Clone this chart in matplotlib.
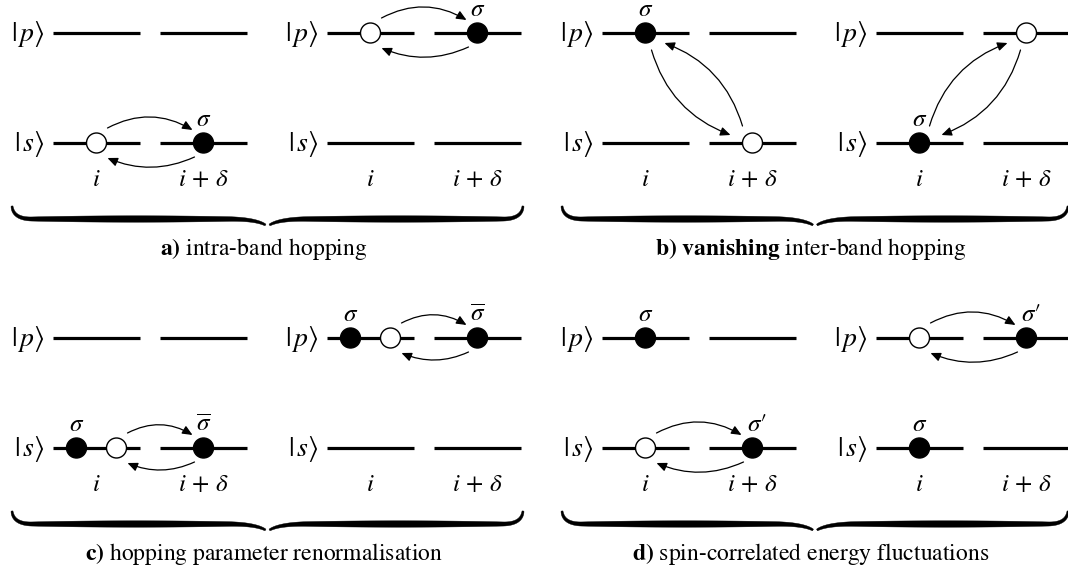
import numpy as np
import matplotlib
matplotlib.use("Agg")
import matplotlib.pyplot as plt
from matplotlib.patches import Circle, FancyArrowPatch, Polygon

plt.rcParams['font.family'] = ['STIXGeneral', 'DejaVu Serif']
plt.rcParams['mathtext.fontset'] = 'stix'

# --- diagram content -------------------------------------------------------
LEVELS = ["p", "s"]
LEVEL_LABELS = {"p": r"$|\,p\rangle$", "s": r"$|\,s\rangle$"}
SITE_LABELS = [r"$i$", r"$i\,+\,\delta$"]
SIG = r"$\sigma$"
SIGBAR = r"$\overline{\sigma}$"
SIGP = r"$\sigma\prime$"

CAPTIONS = [
    r"$\mathbf{a)}$ intra-band hopping",
    r"$\mathbf{b)}$ $\mathbf{vanishing}$ inter-band hopping",
    r"$\mathbf{c)}$ hopping parameter renormalisation",
    r"$\mathbf{d)}$ spin-correlated energy fluctuations",
]

# particles: (level, site, shift inside the site, kind, spin label)
# hops: (hole index, electron index)
SUBPANELS = [
    # a) left
    dict(particles=[("s", 0, 0, "hole", ""), ("s", 1, 0, "e", SIG)], hops=[(0, 1)]),
    # a) right
    dict(particles=[("p", 0, 0, "hole", ""), ("p", 1, 0, "e", SIG)], hops=[(0, 1)]),
    # b) left
    dict(particles=[("p", 0, 0, "e", SIG), ("s", 1, 0, "hole", "")], hops=[(1, 0)]),
    # b) right
    dict(particles=[("p", 1, 0, "hole", ""), ("s", 0, 0, "e", SIG)], hops=[(0, 1)]),
    # c) left
    dict(particles=[("s", 0, -1, "e", SIG), ("s", 0, 1, "hole", ""), ("s", 1, 0, "e", SIGBAR)],
         hops=[(1, 2)]),
    # c) right
    dict(particles=[("p", 0, -1, "e", SIG), ("p", 0, 1, "hole", ""), ("p", 1, 0, "e", SIGBAR)],
         hops=[(1, 2)]),
    # d) left
    dict(particles=[("p", 0, 0, "e", SIG), ("s", 0, 0, "hole", ""), ("s", 1, 0, "e", SIGP)],
         hops=[(1, 2)]),
    # d) right
    dict(particles=[("p", 0, 0, "hole", ""), ("p", 1, 0, "e", SIGP), ("s", 0, 0, "e", SIG)],
         hops=[(0, 1)]),
]

# --- layout (pixel units) --------------------------------------------------
W, H = 1068, 575
COL_X0 = [53, 327, 602, 876]        # start of first segment in each column
SEG_LEN = 87
SITE_STEP = 107
ROW_DY = 305
LEVEL_Y = {"p": 33, "s": 143}
SHIFT = 20
R = 10
FS = 17

fig = plt.figure(figsize=(W / 100, H / 100), dpi=100)
ax = fig.add_axes([0, 0, 1, 1])
ax.set_xlim(0, W)
ax.set_ylim(H, 0)
ax.axis("off")


def site_x(x0, site):
    return x0 + site * SITE_STEP + SEG_LEN / 2


def arrow(p0, p1, rad):
    a = FancyArrowPatch(p0, p1, connectionstyle=f"arc3,rad={rad}",
                        arrowstyle="-|>,head_length=0.5,head_width=0.22",
                        mutation_scale=12, lw=0.9, color="black",
                        shrinkA=0, shrinkB=0, zorder=4)
    ax.add_patch(a)


def brace(x1, x2, ytop):
    xm = (x1 + x2) / 2
    ybody = ytop + 12
    ycusp = ytop + 18
    for xa, d in ((x1, 1), (x2, -1)):
        t = np.linspace(0, 1, 30)
        # curl at the end
        c0 = np.array([xa, ytop - 1]); c1 = np.array([xa + d * 1, ybody]); c2 = np.array([xa + d * 20, ybody])
        seg1 = ((1 - t) ** 2)[:, None] * c0 + (2 * t * (1 - t))[:, None] * c1 + (t ** 2)[:, None] * c2
        e0 = np.array([xm - d * 40, ybody])
        seg2 = c2 + t[:, None] * (e0 - c2)
        f1 = np.array([xm - d * 12, ybody]); f2 = np.array([xm - d * 2, ycusp])
        seg3 = ((1 - t) ** 2)[:, None] * e0 + (2 * t * (1 - t))[:, None] * f1 + (t ** 2)[:, None] * f2
        pts = np.vstack([seg1, seg2[1:], seg3[1:]])
        seg = np.diff(pts, axis=0)
        s = np.concatenate([[0], np.cumsum(np.hypot(seg[:, 0], seg[:, 1]))])
        s /= s[-1]
        w = 1.8 + 4.6 * np.sin(np.pi * s) ** 0.6
        tang = np.gradient(pts, axis=0)
        tang /= np.hypot(tang[:, 0], tang[:, 1])[:, None]
        nrm = np.column_stack([-tang[:, 1], tang[:, 0]])
        upper = pts + nrm * (w / 2)[:, None]
        lower = pts - nrm * (w / 2)[:, None]
        poly = np.vstack([upper, lower[::-1]])
        ax.add_patch(Polygon(poly, closed=True, fc="black", ec="black", lw=0.3, zorder=2))


for k, sp in enumerate(SUBPANELS):
    row, col = divmod(k, 4)
    x0 = COL_X0[col]
    dy = row * ROW_DY
    ys = {lv: LEVEL_Y[lv] + dy for lv in LEVELS}

    for lv in LEVELS:
        for site in range(2):
            xs = x0 + site * SITE_STEP
            ax.plot([xs, xs + SEG_LEN], [ys[lv], ys[lv]], color="black", lw=2.3,
                    solid_capstyle="butt", zorder=1)
        ax.text(x0 - 8, ys[lv] + 1, LEVEL_LABELS[lv], fontsize=20, ha="right", va="center")
    for site in range(2):
        ax.text(site_x(x0, site), ys["s"] + 37, SITE_LABELS[site], fontsize=18,
                ha="center", va="center")

    pos = []
    for lv, site, shift, kind, lab in sp["particles"]:
        x = site_x(x0, site) + shift * SHIFT
        y = ys[lv]
        pos.append((x, y))
        if kind == "e":
            ax.add_patch(Circle((x, y), R, fc="black", ec="black", lw=1, zorder=5))
        else:
            ax.add_patch(Circle((x, y), R, fc="white", ec="black", lw=1, zorder=5))
        if lab:
            ax.text(x + (4 if lab == SIGP else 0), y - 23, lab, fontsize=18,
                    ha="center", va="center")

    for hi, ei in sp["hops"]:
        (xh, yh), (xe, ye) = pos[hi], pos[ei]
        if yh == ye:
            arrow((xh + 11, yh - 15), (xe - 11, ye - 13), -0.28)
            arrow((xe - 9, ye + 14), (xh + 11, yh + 15), -0.22)
        else:
            (tx, ty), (bx, by) = ((xh, yh), (xe, ye)) if yh < ye else ((xe, ye), (xh, yh))
            s = 1 if bx > tx else -1
            arrow((tx + s * 6, ty + 17), (bx - s * 22, by - 8), 0.25 * s)
            arrow((bx - s * 10, by - 17), (tx + s * 19, ty + 10), 0.25 * s)

# braces and captions
for p in range(4):
    row, col = divmod(p, 2)
    dy = row * ROW_DY
    if col == 0:
        x1, x2 = 12, 523
    else:
        x1, x2 = 562, 1068
    brace(x1, x2, 207 + dy)
    ax.text((x1 + x2) / 2 - 4, 249 + dy, CAPTIONS[p], fontsize=FS, ha="center", va="center")

fig.savefig("out.png", dpi=100)
